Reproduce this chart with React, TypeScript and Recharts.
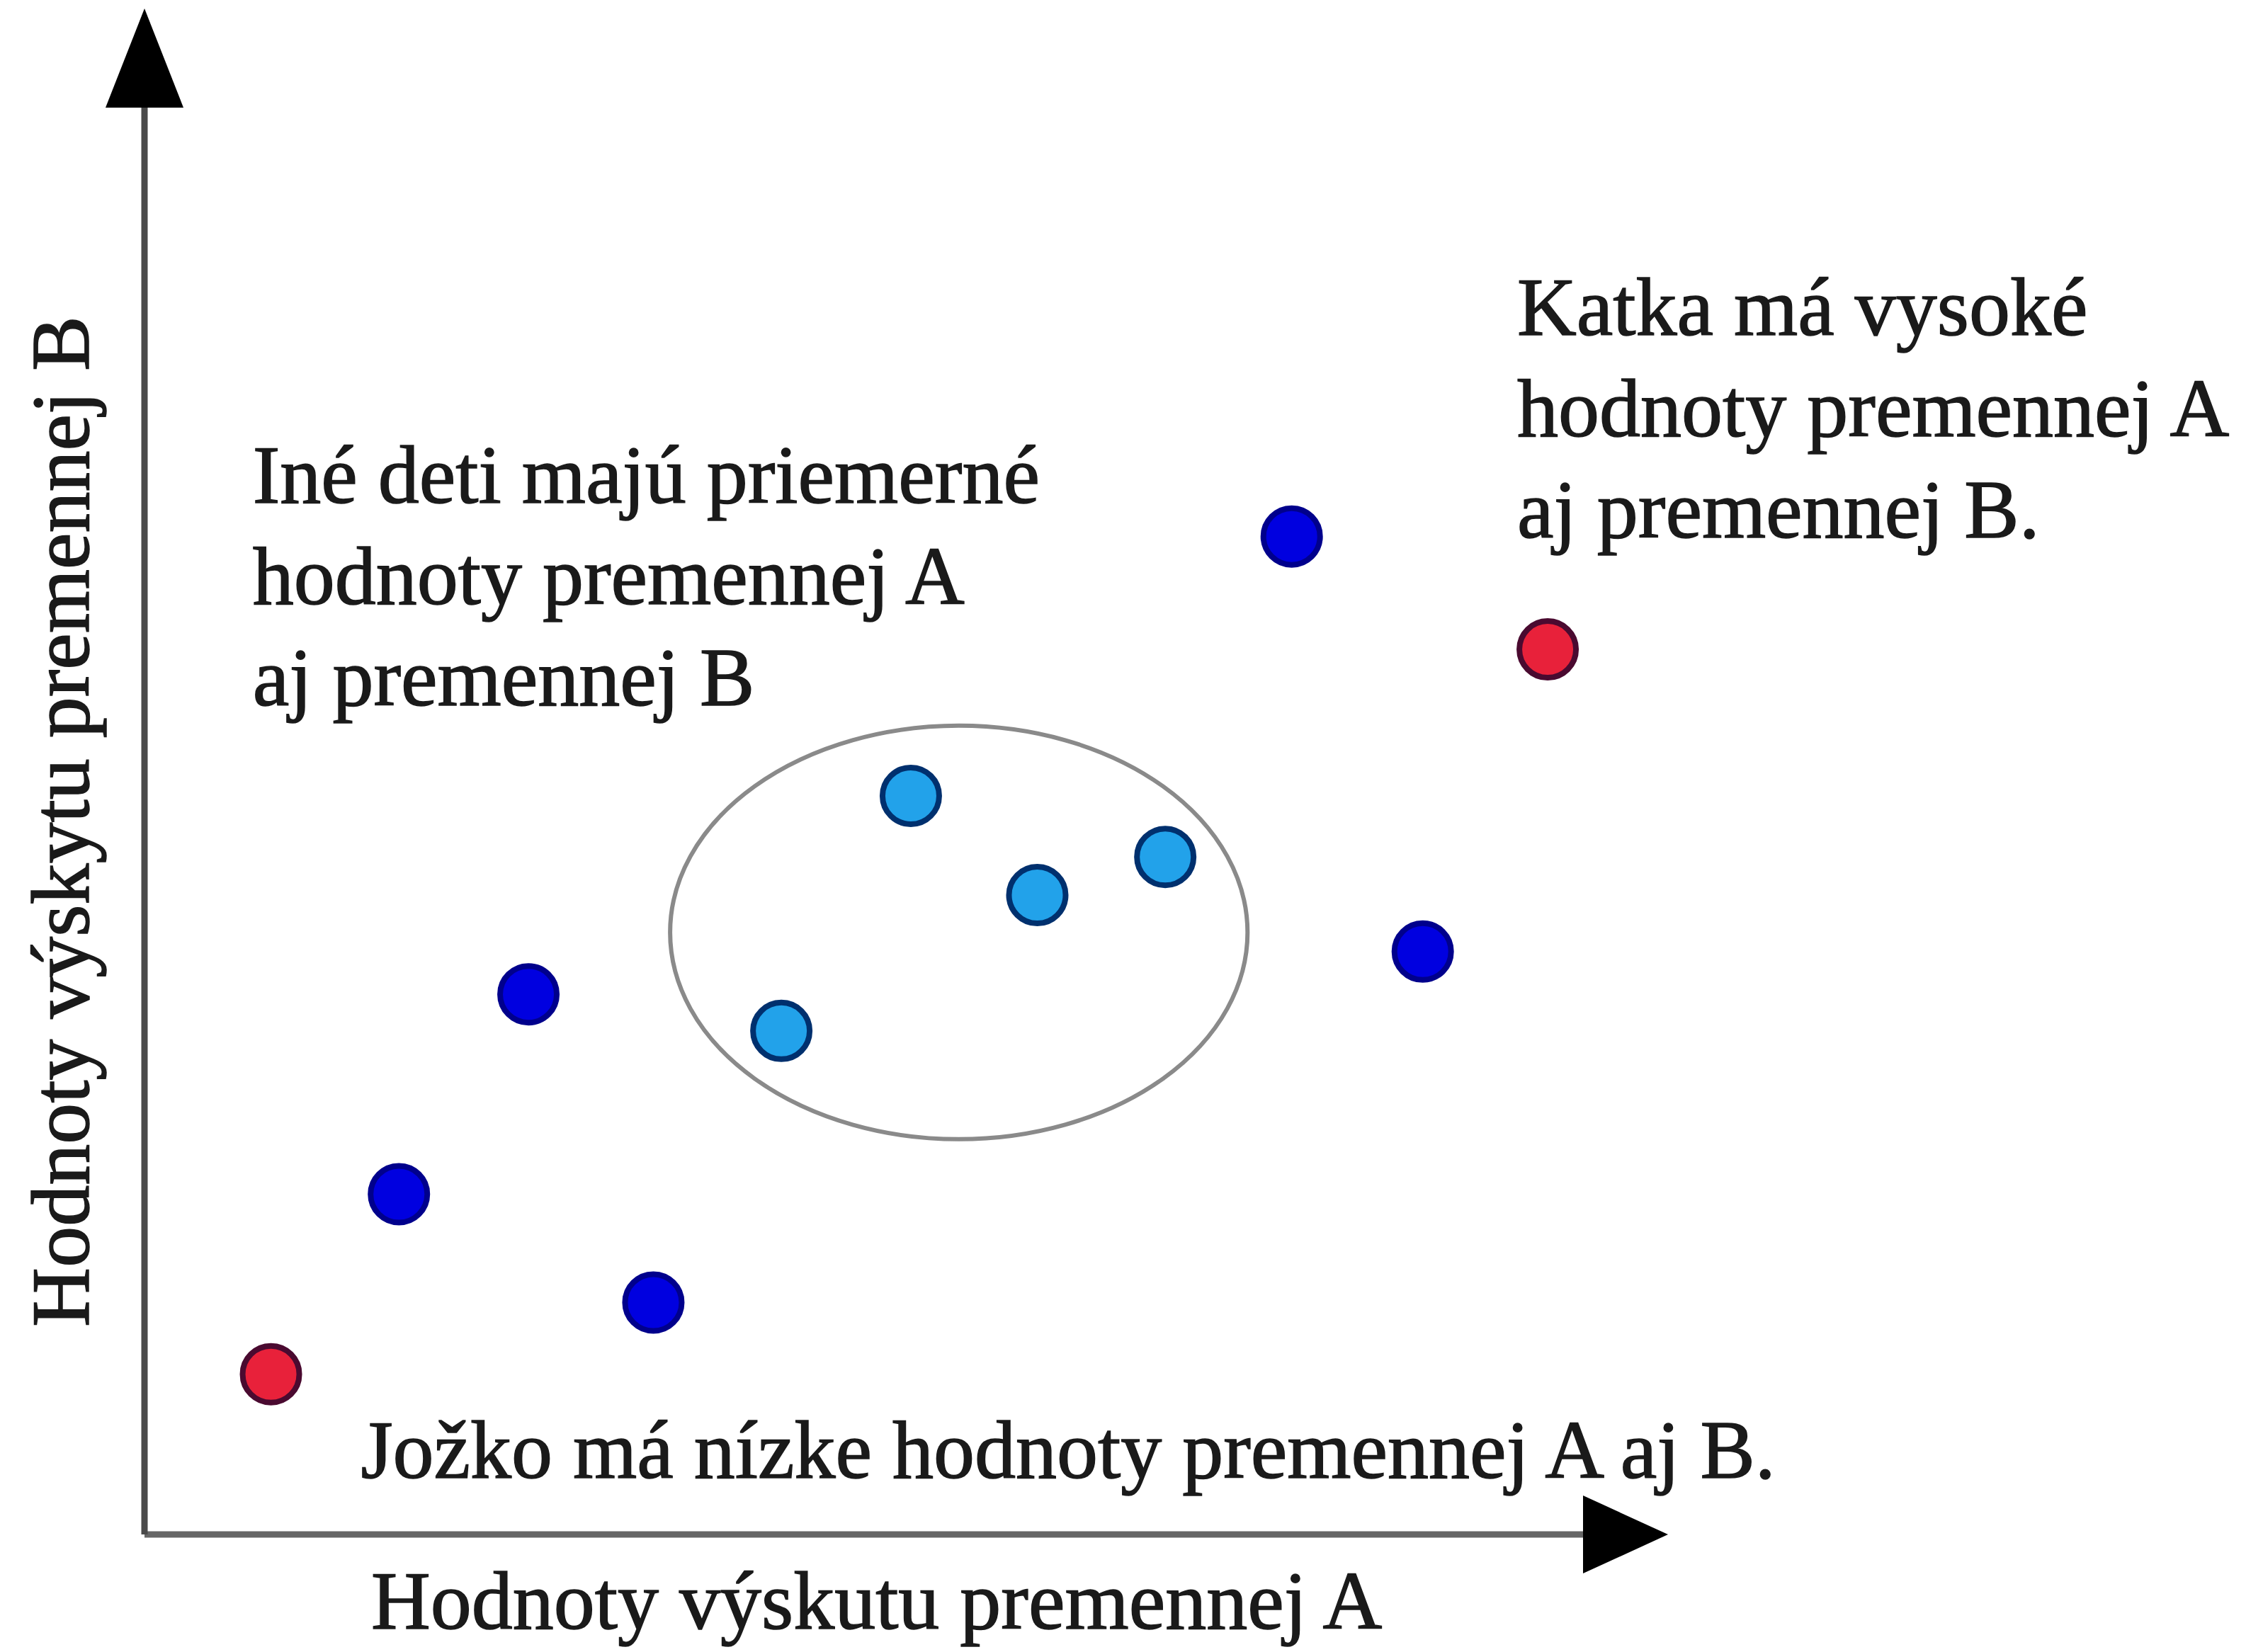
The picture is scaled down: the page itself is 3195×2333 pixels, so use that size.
import {
  ScatterChart, Scatter, XAxis, YAxis, ReferenceArea, ReferenceDot, ReferenceLine, Label,
} from 'recharts';

const FONT = '"Liberation Serif", "DejaVu Serif", serif';
const TEXT = '#1a1a1a';
const FONT_SIZE = 116;
const LINE_GAP = 143;

// points, axes run 0..100 with no ticks
const extremes = [
  { x: 8.3, y: 10.5 },   // Jožko
  { x: 92.1, y: 58.0 },  // Katka
];
const others = [
  { x: 16.7, y: 22.3 },
  { x: 25.2, y: 35.4 },
  { x: 33.4, y: 15.2 },
  { x: 75.3, y: 65.4 },
  { x: 83.9, y: 38.2 },
];
const average = [
  { x: 41.8, y: 33.0 },
  { x: 50.3, y: 48.4 },
  { x: 58.6, y: 41.9 },
  { x: 67.0, y: 44.4 },
];

const clusterBox = { x1: 34.5, x2: 72.4, y1: 25.9, y2: 53.0 };

const notes = [
  { x: 7.1, y: 67.6, lines: ['Iné deti majú priemerné', 'hodnoty premennej A', 'aj premennej B'] },
  { x: 90.1, y: 78.6, lines: ['Katka má vysoké', 'hodnoty premennej A', 'aj premennej B.'] },
  { x: 14.2, y: 3.7, lines: ['Jožko má nízke hodnoty premennej A aj B.'] },
];

const xTitle = 'Hodnoty výskutu premennej A';
const yTitle = 'Hodnoty výskytu premennej B';

function dot(fill: string, stroke: string) {
  return (p: any) => (
    <circle cx={p.cx} cy={p.cy} r={40} fill={fill} stroke={stroke} strokeWidth={8} />
  );
}

function Note({ cx, cy, lines }: { cx: number; cy: number; lines: string[] }) {
  return (
    <text x={cx} y={cy} fontSize={FONT_SIZE} fontFamily={FONT} fill={TEXT} stroke={TEXT} strokeWidth={1.5}>
      {lines.map((l, i) => (
        <tspan key={i} x={cx} dy={i === 0 ? 0 : LINE_GAP}>{l}</tspan>
      ))}
    </text>
  );
}

export default function App() {
  return (
    <div style={{ position: 'absolute', left: 0, top: 0, width: 3195, height: 2333, background: '#fff' }}>
      <ScatterChart width={3195} height={2333} margin={{ top: 12, right: 840, bottom: 0, left: 0 }}>
        <XAxis
          type="number" dataKey="x" domain={[0, 100]} height={166}
          tick={false} tickLine={false} axisLine={false}
        >
          <Label
            content={({ viewBox }: any) => (
              <text
                x={viewBox.x + 320} y={viewBox.y + 133}
                fontSize={FONT_SIZE} fontFamily={FONT} fill={TEXT} stroke={TEXT} strokeWidth={1.5}
              >
                {xTitle}
              </text>
            )}
          />
        </XAxis>
        <YAxis
          type="number" dataKey="y" domain={[0, 100]} width={204}
          tick={false} tickLine={false} axisLine={false}
        >
          <Label
            content={({ viewBox }: any) => (
              <text
                x={125} y={viewBox.y + 1148}
                transform={`rotate(-90 125 ${viewBox.y + 1148})`}
                textAnchor="middle" fontSize={FONT_SIZE} fontFamily={FONT}
                fill={TEXT} stroke={TEXT} strokeWidth={1.5}
              >
                {yTitle}
              </text>
            )}
          />
        </YAxis>

        <ReferenceLine segment={[{ x: 0, y: 0 }, { x: 96, y: 0 }]} stroke="#666" strokeWidth={9} ifOverflow="visible" />
        <ReferenceLine segment={[{ x: 0, y: 0 }, { x: 0, y: 95 }]} stroke="#4a4a4a" strokeWidth={9} ifOverflow="visible" />
        <ReferenceDot
          x={100} y={0} r={0} ifOverflow="visible"
          shape={(p: any) => (
            <polygon points={`${p.cx},${p.cy} ${p.cx - 120},${p.cy - 55} ${p.cx - 120},${p.cy + 55}`} fill="#000" />
          )}
        />
        <ReferenceDot
          x={0} y={100} r={0} ifOverflow="visible"
          shape={(p: any) => (
            <polygon points={`${p.cx},${p.cy} ${p.cx - 55},${p.cy + 140} ${p.cx + 55},${p.cy + 140}`} fill="#000" />
          )}
        />

        <ReferenceArea
          {...clusterBox}
          ifOverflow="visible"
          shape={(p: any) => (
            <ellipse
              cx={p.x + p.width / 2} cy={p.y + p.height / 2}
              rx={p.width / 2} ry={p.height / 2}
              fill="none" stroke="#8a8a8a" strokeWidth={6}
            />
          )}
        />

        {notes.map((n, i) => (
          <ReferenceDot
            key={i} x={n.x} y={n.y} r={0} ifOverflow="visible"
            shape={(p: any) => <Note cx={p.cx} cy={p.cy} lines={n.lines} />}
          />
        ))}

        <Scatter data={others} shape={dot('#0000e0', '#00008c')} isAnimationActive={false} />
        <Scatter data={average} shape={dot('#22a2ea', '#00306e')} isAnimationActive={false} />
        <Scatter data={extremes} shape={dot('#e8213a', '#4a0a30')} isAnimationActive={false} />
      </ScatterChart>
    </div>
  );
}
